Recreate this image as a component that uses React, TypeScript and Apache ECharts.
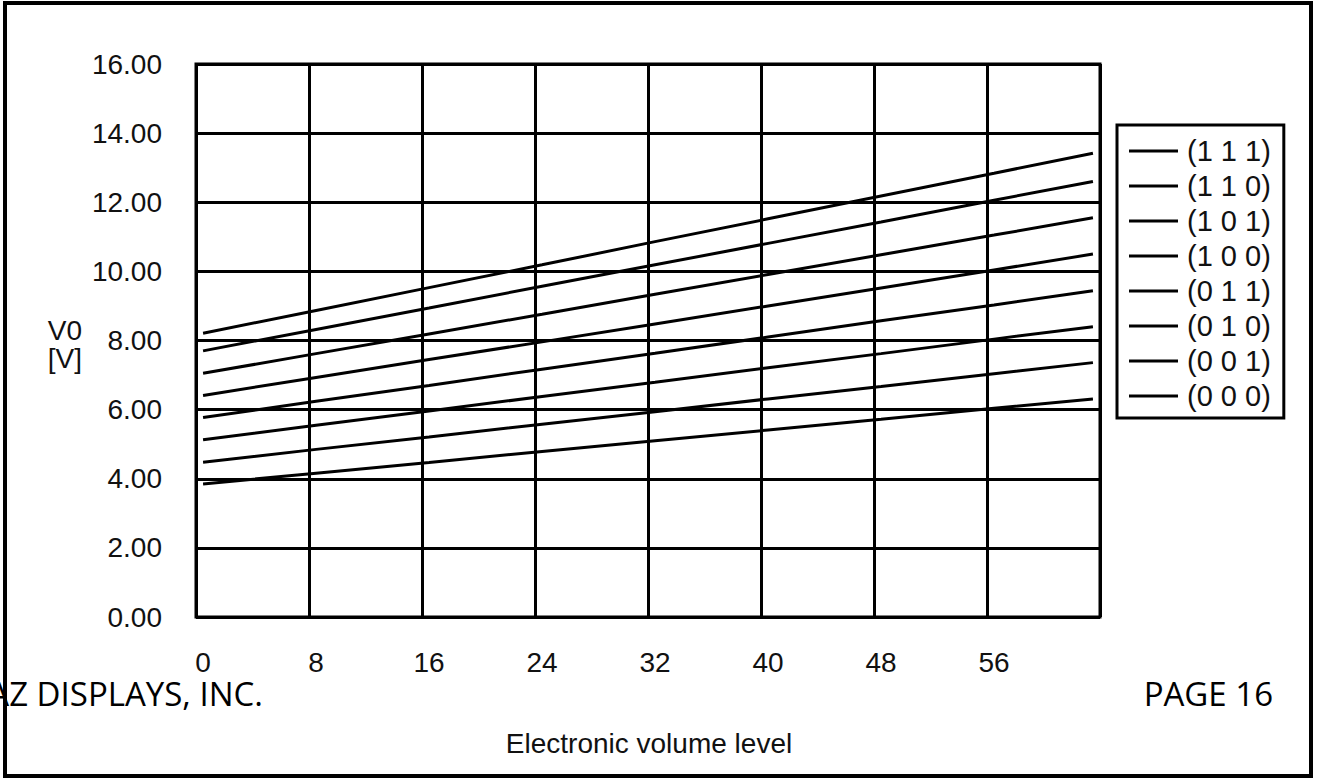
import React, { useEffect, useRef } from "react";
import * as echarts from "echarts";

// Category axis: electronic volume level 0..63
const categories: string[] = Array.from({ length: 64 }, (_, i) => String(i));
const sampleLevels = [0, 8, 16, 24, 32, 40, 48, 56, 63];

const seriesNames = ["(1 1 1)", "(1 1 0)", "(1 0 1)", "(1 0 0)", "(0 1 1)", "(0 1 0)", "(0 0 1)", "(0 0 0)"];
const v111 = [8.21, 8.87, 9.53, 10.19, 10.86, 11.52, 12.18, 12.84, 13.42];
const v110 = [7.7, 8.32, 8.94, 9.57, 10.19, 10.81, 11.43, 12.06, 12.6];
const v101 = [7.05, 7.62, 8.19, 8.76, 9.34, 9.91, 10.48, 11.05, 11.55];
const v100 = [6.41, 6.93, 7.45, 7.96, 8.48, 9.0, 9.52, 10.04, 10.5];
const v011 = [5.77, 6.24, 6.7, 7.17, 7.63, 8.1, 8.57, 9.03, 9.44];
const v010 = [5.13, 5.55, 5.96, 6.38, 6.79, 7.21, 7.62, 8.04, 8.4];
const v001 = [4.48, 4.85, 5.21, 5.58, 5.94, 6.31, 6.67, 7.04, 7.36];
const v000 = [3.85, 4.16, 4.47, 4.79, 5.1, 5.41, 5.72, 6.04, 6.31];
const seriesValues = [v111, v110, v101, v100, v011, v010, v001, v000];

const yTicks = { min: 0, max: 16, interval: 2 };

const FONT = "'Liberation Sans', Arial, sans-serif";
const FS = 28;
const PAGE_FONT = "'Open Sans', 'Noto Sans', sans-serif";

export default function App() {
  const ref = useRef<HTMLDivElement>(null);

  useEffect(() => {
    if (!ref.current) return;
    const chart = echarts.init(ref.current, undefined, { renderer: "svg" });

    const series = seriesNames.map((name, si) => ({
      name,
      type: "line" as const,
      symbol: "none",
      data: sampleLevels.map((lv, i) => [lv, seriesValues[si][i]]),
      lineStyle: { color: "#000", width: 3 },
      itemStyle: { color: "#000" },
      z: 3,
    }));

    chart.setOption({
      animation: false,
      backgroundColor: "#fff",
      grid: {
        left: 196,
        top: 64,
        right: 218,
        bottom: 161,
        show: true,
        borderColor: "#000",
        borderWidth: 3,
        containLabel: false,
      },
      legend: {
        orient: "vertical",
        left: 1117,
        top: 125,
        padding: [11, 13, 7, 12],
        icon: "rect",
        itemWidth: 49,
        itemHeight: 3,
        itemGap: 5,
        borderColor: "#000",
        borderWidth: 3,
        backgroundColor: "#fff",
        itemStyle: { color: "#000" },
        textStyle: {
          fontFamily: FONT,
          fontSize: 29,
          lineHeight: 30,
          color: "#111",
          padding: [0, 0, 0, 4],
        },
        data: seriesNames,
      },
      xAxis: {
        type: "category",
        data: categories,
        boundaryGap: true,
        axisLine: { show: false },
        axisTick: { show: false },
        axisLabel: {
          interval: 7,
          margin: 31,
          fontFamily: FONT,
          fontSize: FS,
          color: "#111",
        },
        splitLine: {
          show: true,
          interval: 7,
          lineStyle: { color: "#000", width: 3 },
        },
      },
      yAxis: {
        type: "value",
        min: yTicks.min,
        max: yTicks.max,
        interval: yTicks.interval,
        axisLine: { show: false },
        axisTick: { show: false },
        axisLabel: {
          margin: 34,
          formatter: (v: number) => v.toFixed(2),
          fontFamily: FONT,
          fontSize: FS,
          color: "#111",
        },
        splitLine: { show: true, lineStyle: { color: "#000", width: 3 } },
      },
      series,
      graphic: [
        {
          type: "text",
          x: 82,
          y: 330,
          style: { text: "V0", fontFamily: FONT, fontSize: FS, fill: "#111", align: "right", verticalAlign: "middle" },
          z: 10,
        },
        {
          type: "text",
          x: 82,
          y: 358,
          style: { text: "[V]", fontFamily: FONT, fontSize: FS, fill: "#111", align: "right", verticalAlign: "middle" },
          z: 10,
        },
        {
          type: "text",
          x: 649,
          y: 743,
          style: { text: "Electronic volume level", fontFamily: FONT, fontSize: FS, fill: "#111", align: "center", verticalAlign: "middle" },
          z: 10,
        },
        {
          type: "text",
          x: 263,
          y: 693,
          style: { text: "AZ DISPLAYS, INC.", fontFamily: PAGE_FONT, fontSize: 33, fill: "#000", align: "right", verticalAlign: "middle" },
          z: 20,
        },
        {
          type: "text",
          x: 1273,
          y: 693,
          style: { text: "PAGE 16", fontFamily: PAGE_FONT, fontSize: 33, fill: "#000", align: "right", verticalAlign: "middle" },
          z: 20,
        },
        {
          type: "rect",
          shape: { x: 5, y: 3, width: 1306, height: 773 },
          style: { fill: "none", stroke: "#000", lineWidth: 4 },
          z: 100,
        },
      ],
    });

    return () => chart.dispose();
  }, []);

  return (
    <div
      ref={ref}
      style={{ position: "absolute", left: 0, top: 0, width: 1318, height: 778, background: "#fff" }}
    />
  );
}
